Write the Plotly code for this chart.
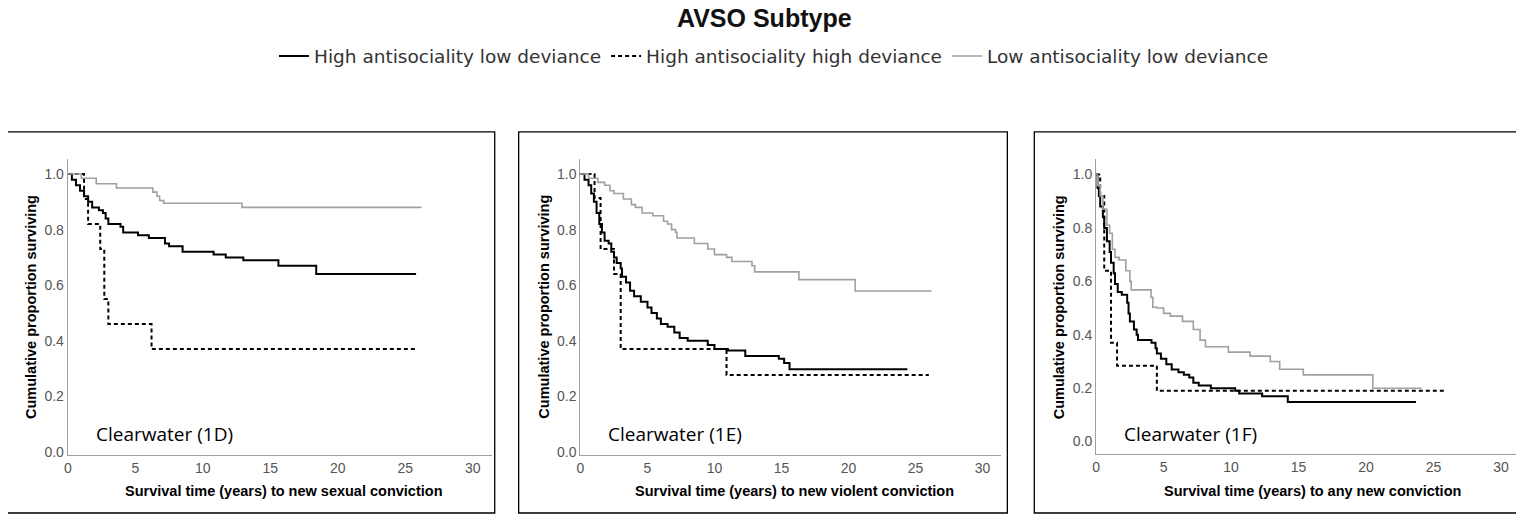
import plotly.graph_objects as go

# page body has a default 8px margin; work in reference pixels and offset
OFF = 8
W, H = 1524 - OFF, 520 - OFF

def px(x):
    return (x - OFF) / W

def py(y):
    return 1 - (y - OFF) / H

# Panel 1D: new sexual conviction
d_hl_x = [0,0.3,0.6,0.9,1.2,1.5,1.8,2.3,2.6,2.8,3.0,3.9,4.1,5.2,6.0,7.2,7.5,8.5,10.8,11.7,13.0,15.6,18.4,25.8]
d_hl_y = [1,0.98,0.96,0.94,0.92,0.90,0.88,0.87,0.86,0.84,0.82,0.81,0.79,0.78,0.77,0.75,0.74,0.72,0.71,0.70,0.69,0.67,0.64,0.64]
d_hh_x = [0,1.2,1.5,2.4,2.7,3.0,6.2,25.8]
d_hh_y = [1,0.91,0.82,0.73,0.55,0.46,0.37,0.37]
d_ll_x = [0,1.0,2.1,3.6,6.3,6.6,6.8,7.1,12.9,26.2]
d_ll_y = [1,0.985,0.965,0.95,0.935,0.92,0.905,0.895,0.88,0.88]

# Panel 1E: new violent conviction
e_hl_x = [0,0.3,0.6,0.8,1.0,1.2,1.4,1.6,1.8,2.1,2.3,2.5,2.7,3.0,3.1,3.4,3.7,4.0,4.5,5.0,5.3,5.7,6.0,6.5,7.0,7.4,8.0,9.5,10.0,11.0,12.3,14.8,15.2,15.6,24.4]
e_hl_y = [1,0.98,0.96,0.93,0.90,0.86,0.82,0.79,0.76,0.75,0.72,0.70,0.68,0.66,0.63,0.61,0.58,0.56,0.54,0.52,0.50,0.48,0.46,0.45,0.43,0.41,0.40,0.385,0.37,0.365,0.345,0.335,0.32,0.297,0.297]
e_hh_x = [0,1.05,1.5,2.5,3.0,10.9,26.0]
e_hh_y = [1,0.914,0.73,0.64,0.37,0.277,0.277]
e_ll_x = [0,0.6,1.3,1.8,2.2,2.5,3.2,3.8,4.1,4.6,5.4,6.2,6.5,6.8,7.1,7.2,8.5,9.5,10.0,10.9,11.3,12.8,13.0,16.3,20.5,26.2]
e_ll_y = [1,0.985,0.97,0.96,0.94,0.93,0.91,0.89,0.88,0.86,0.85,0.83,0.82,0.80,0.79,0.77,0.75,0.73,0.71,0.70,0.685,0.67,0.648,0.62,0.579,0.579]

# Panel 1F: any new conviction
f_hl_x = [0,0.1,0.2,0.3,0.5,0.6,0.8,1.0,1.1,1.3,1.4,1.6,1.9,2.3,2.4,2.5,2.8,3.0,3.1,4.1,4.4,4.5,4.8,5.2,5.6,6.1,6.5,6.9,7.2,7.6,8.5,10.3,10.6,12.3,14.2,23.7]
f_hl_y = [1,0.95,0.92,0.88,0.84,0.80,0.75,0.71,0.67,0.63,0.59,0.56,0.55,0.52,0.48,0.45,0.42,0.40,0.38,0.37,0.35,0.33,0.31,0.29,0.27,0.26,0.25,0.24,0.22,0.21,0.20,0.19,0.18,0.17,0.148,0.148]
f_hh_x = [0,0.3,0.6,1.1,1.55,4.5,25.95]
f_hh_y = [1,0.92,0.64,0.37,0.284,0.19,0.19]
f_ll_x = [0,0.1,0.3,0.5,0.8,1.0,1.2,1.4,1.7,2.2,2.5,2.6,4.07,4.2,4.5,5.0,5.5,6.4,7.2,7.7,8.1,9.8,11.4,12.9,13.6,15.35,20.5,24.1]
f_ll_y = [1,0.96,0.92,0.87,0.81,0.78,0.72,0.69,0.68,0.64,0.60,0.568,0.54,0.503,0.50,0.48,0.47,0.45,0.42,0.38,0.355,0.335,0.32,0.30,0.271,0.25,0.20,0.20]

series_names = ["High antisociality low deviance", "High antisociality high deviance", "Low antisociality low deviance"]
x_ticks = [0, 5, 10, 15, 20, 25, 30]
y_ticks = [0.0, 0.2, 0.4, 0.6, 0.8, 1.0]
panel_labels = ["Clearwater (1D)", "Clearwater (1E)", "Clearwater (1F)"]
x_titles = ["Survival time (years) to new sexual conviction",
            "Survival time (years) to new violent conviction",
            "Survival time (years) to any new conviction"]

panels = [
    (d_hl_x, d_hl_y, d_hh_x, d_hh_y, d_ll_x, d_ll_y),
    (e_hl_x, e_hl_y, e_hh_x, e_hh_y, e_ll_x, e_ll_y),
    (f_hl_x, f_hl_y, f_hh_x, f_hh_y, f_ll_x, f_ll_y),
]
geo = [
    (64, 470, 489, 160, 459, [-0.01, 1.056]),
    (578, 981, 1000, 160, 459, [-0.01, 1.056]),
    (1095, 1501, 1518, 160, 458, [-0.045, 1.06]),
]
boxes = [(2, 492), (516, 1006), (1033, 1521)]

styles = [dict(color="black", width=2),
          dict(color="black", width=2, dash="4px,3px"),
          dict(color="#a0a0a0", width=1.6)]

fig = go.Figure()
layout = {}
anns = []
shapes = []
tf = dict(size=14, color="#555", family="Liberation Sans")
for i, (p, g) in enumerate(zip(panels, geo)):
    x0, x30, xr, yt, yb, yr = g
    ppy = (x30 - x0) / 30
    xmax = (xr - x0) / ppy
    sfx = "" if i == 0 else str(i + 1)
    xs = [p[0], p[2], p[4]]
    ys = [p[1], p[3], p[5]]
    for k in range(3):
        fig.add_trace(go.Scatter(x=xs[k], y=ys[k], mode="lines", line_shape="hv",
                                 line=styles[k], name=series_names[k], showlegend=(i == 0),
                                 xaxis="x" + sfx, yaxis="y" + sfx))
    layout["xaxis" + sfx] = dict(domain=[px(x0), px(xr)], range=[0, xmax], tickvals=x_ticks,
                                 showgrid=False, zeroline=False, showline=True, linecolor="#a0a0a0",
                                 linewidth=1.3, ticks="", tickfont=tf, anchor="y" + sfx)
    layout["yaxis" + sfx] = dict(domain=[py(yb), py(yt)], range=yr, tickvals=y_ticks,
                                 tickformat=".1f", showgrid=False, zeroline=False, showline=True,
                                 linecolor="#a0a0a0", linewidth=1.3, ticks="", tickfont=tf,
                                 anchor="x" + sfx)
    bx0, bx1 = boxes[i]
    shapes.append(dict(type="rect", xref="paper", yref="paper", x0=px(bx0), x1=px(bx1),
                       y0=py(518), y1=py(133), line=dict(color="black", width=1.3)))
    anns.append(dict(text=panel_labels[i], xref="x" + sfx, yref="paper", x=1.9, y=py(438),
                     xanchor="left", yanchor="middle", showarrow=False,
                     font=dict(size=19, color="black", family="Open Sans")))
    anns.append(dict(text="<b>" + x_titles[i] + "</b>", xref="paper", yref="paper",
                     x=px(x0 + 16 * ppy), y=py(496), xanchor="center", yanchor="middle",
                     showarrow=False, font=dict(size=14.5, color="black", family="Liberation Sans")))
    anns.append(dict(text="<b>Cumulative proportion surviving</b>", xref="paper", yref="paper",
                     x=px(x0 - 37), y=py(310), textangle=-90, xanchor="center", yanchor="middle",
                     showarrow=False, font=dict(size=14.5, color="black", family="Liberation Sans")))

anns.append(dict(text="<b>AVSO Subtype</b>", xref="paper", yref="paper", x=px(762), y=py(18),
                 showarrow=False, xanchor="center", yanchor="middle",
                 font=dict(size=25, color="#111", family="Liberation Sans")))

fig.update_layout(width=W, height=H, margin=dict(l=0, r=0, t=0, b=0),
                  paper_bgcolor="white", plot_bgcolor="white",
                  annotations=anns, shapes=shapes,
                  legend=dict(orientation="h", x=px(772), xanchor="center", y=py(57), yanchor="middle",
                              font=dict(size=18.5, color="#333", family="DejaVu Sans"),
                              itemwidth=30, bgcolor="rgba(0,0,0,0)"),
                  **layout)
fig.write_html("out.html")
